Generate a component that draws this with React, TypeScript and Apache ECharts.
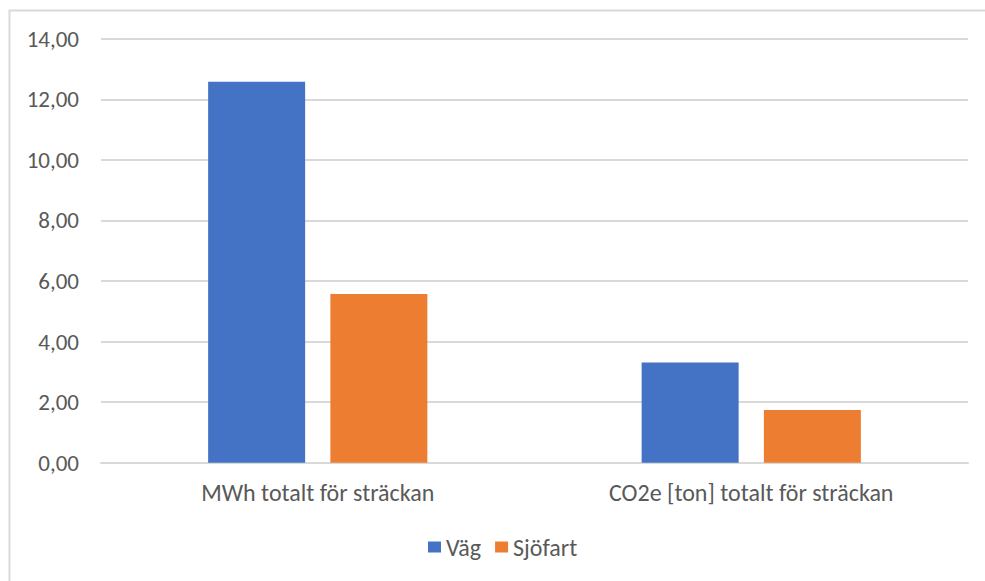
import React, { useEffect, useRef } from "react";
import * as echarts from "echarts";

const categories = ["MWh totalt för sträckan", "CO2e [ton] totalt för sträckan"];
const vagValues = [12.58, 3.31];
const sjofartValues = [5.57, 1.74];
const seriesNames = ["Väg", "Sjöfart"];

const FONT = "Carlito, Calibri, Lato, 'Open Sans', sans-serif";
const TEXT_COLOR = "#595959";
const GRID_COLOR = "#D9D9D9";

const fmt = (v: number) => v.toFixed(2).replace(".", ",");

export default function App() {
  const ref = useRef<HTMLDivElement>(null);

  useEffect(() => {
    if (!ref.current) return;
    const chart = echarts.init(ref.current, undefined, { renderer: "svg" });
    chart.setOption({
      animation: false,
      backgroundColor: "#ffffff",
      textStyle: { fontFamily: FONT },
      graphic: [
        {
          type: "rect",
          left: 7,
          top: 8,
          shape: { x: 0, y: 0, width: 1010, height: 610 },
          style: { fill: "none", stroke: GRID_COLOR, lineWidth: 2 },
          silent: true,
          z: -1,
        },
      ],
      grid: { left: 101, right: 17, top: 38.7, bottom: 118.3, containLabel: false },
      legend: {
        data: seriesNames,
        left: 428,
        top: 535,
        padding: 0,
        itemWidth: 13,
        itemHeight: 11,
        itemGap: 14,
        icon: "rect",
        textStyle: { color: TEXT_COLOR, fontSize: 24, fontFamily: FONT, lineHeight: 24 },
      },
      xAxis: {
        type: "category",
        data: categories,
        axisLine: { show: true, lineStyle: { color: GRID_COLOR, width: 2 } },
        axisTick: { show: false },
        axisLabel: { color: TEXT_COLOR, fontSize: 24, fontFamily: FONT, margin: 18, lineHeight: 24 },
      },
      yAxis: {
        type: "value",
        min: 0,
        max: 14,
        interval: 2,
        axisLine: { show: false },
        axisTick: { show: false },
        axisLabel: { color: TEXT_COLOR, fontSize: 23, fontFamily: FONT, margin: 22, formatter: fmt },
        splitLine: { lineStyle: { color: GRID_COLOR, width: 2 } },
      },
      series: [
        {
          name: seriesNames[0],
          type: "bar",
          data: vagValues,
          barWidth: 97,
          barGap: "26%",
          itemStyle: { color: "#4472C4" },
        },
        {
          name: seriesNames[1],
          type: "bar",
          data: sjofartValues,
          barWidth: 97,
          itemStyle: { color: "#ED7D31" },
        },
      ],
    });
    return () => chart.dispose();
  }, []);

  return (
    <div
      ref={ref}
      style={{ position: "absolute", left: 0, top: 0, width: 985, height: 581 }}
    />
  );
}
